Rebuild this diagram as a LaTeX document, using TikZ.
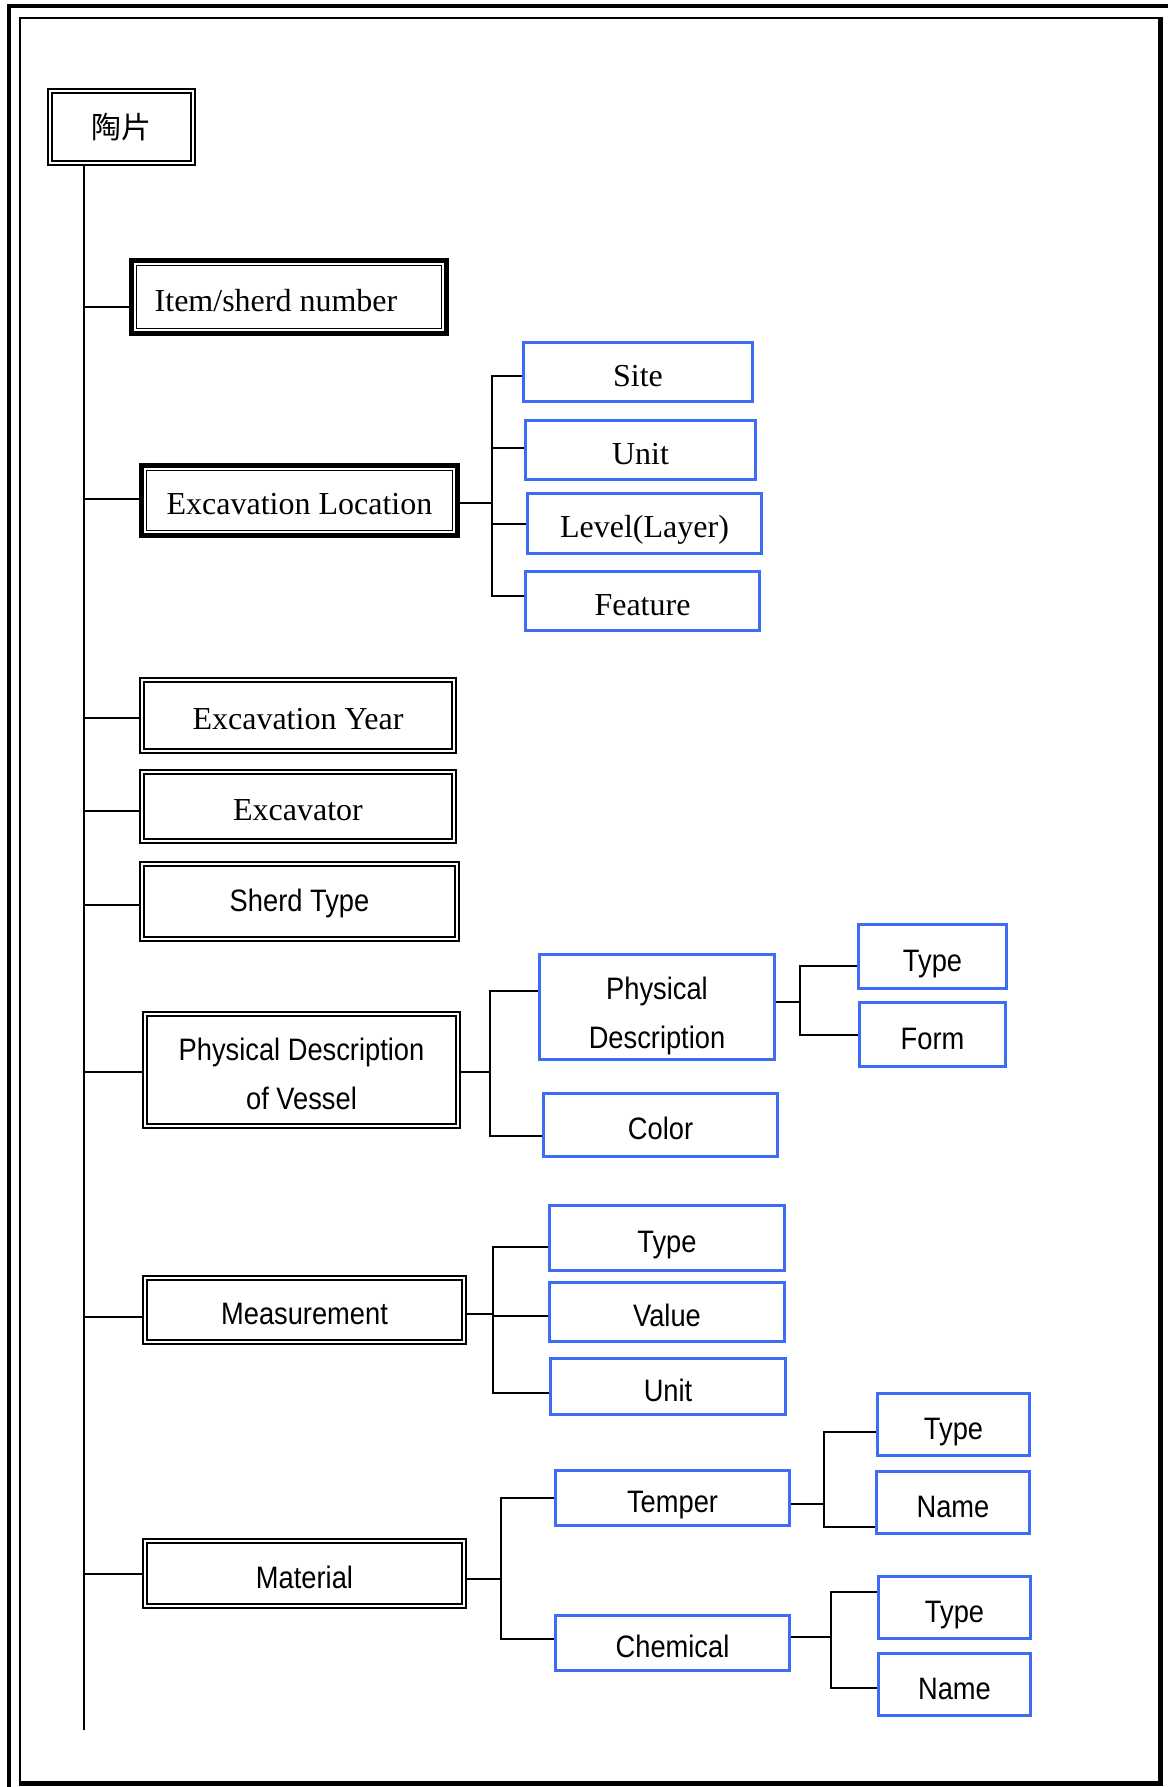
\documentclass[tikz,border=0pt]{standalone}
\usepackage{fontspec}
\setmainfont{Liberation Serif}
\newfontfamily\narrowsans[FakeStretch=0.88]{Liberation Sans}
\newfontfamily\cjkfont{Noto Sans CJK SC}
\definecolor{boxblue}{RGB}{62,108,245}

\begin{document}
\begin{tikzpicture}[
  x=1pt, y=-1pt,
  every node/.style={inner sep=0pt},
  dims/.style 2 args={minimum width=#1pt, minimum height=#2pt},
  rm/.style={font=\fontsize{32}{40}\selectfont, text height=35pt, text depth=6.5pt},
  sf/.style={font=\narrowsans\fontsize{31}{49}\selectfont, text height=36pt, text depth=6.3pt},
  twoline/.style={align=center, text height=, text depth=},
  field/.style={draw, double, double distance=2.4pt, line width=1.7pt, outer sep=2.9pt},
  keyfield/.style={draw, line width=5pt, outer sep=2.5pt},
  leaf/.style={draw=boxblue, line width=2.6pt, outer sep=1.3pt},
  link/.style={line width=2pt}
]
  \useasboundingbox (0,0) rectangle (1168,1787);

  % frame
  \draw[line width=4pt] (9,1787) -- (9,6.5) -- (1168,6.5);
  \draw[line width=2pt] (20,1783) -- (20,18) -- (1160,18);
  \draw[line width=5pt] (1160,17) -- (1160,1783.5) -- (19,1783.5);

  \node[field, dims={143}{72}, font=\cjkfont\fontsize{30}{36}\selectfont] (root) at (121.5,127) {陶片};

  \node[keyfield, rm, dims={315}{73}] (item) at (289,297) {Item/sherd number\hspace*{26pt}};
  \node[keyfield, rm, dims={316}{70}] (exloc) at (299.5,500.5) {Excavation Location};
  \node[field, rm, dims={312}{71}] (year) at (298,715.5) {Excavation Year};
  \node[field, rm, dims={312}{69}] (digger) at (298,806.5) {Excavator};
  \node[field, sf, text height=27pt, dims={315}{75}] (sherd) at (299.5,901.5) {Sherd Type};
  \node[field, sf, twoline, dims={313}{112}] (vessel) at (301.5,1070) {\rule{0pt}{31pt}Physical Description\\of Vessel};
  \node[field, sf, dims={319}{64}] (meas) at (304.5,1310) {Measurement};
  \node[field, sf, dims={319}{65}] (material) at (304.5,1573.5) {Material};

  \node[leaf, rm, dims={229.4}{59.4}] (site) at (638,372) {Site};
  \node[leaf, rm, dims={230.4}{59.4}] (unit) at (640.5,450) {Unit};
  \node[leaf, rm, dims={234.4}{60.4}] (level) at (644.5,523.5) {Level(Layer)};
  \node[leaf, rm, dims={234.4}{59.4}] (feature) at (642.5,601) {Feature};

  \node[leaf, sf, twoline, dims={235.4}{105.4}] (physdesc) at (657,1007) {\rule{0pt}{40pt}Physical\\Description};
  \node[leaf, sf, dims={234.4}{63.4}] (color) at (660.5,1125) {Color};
  \node[leaf, sf, dims={148.4}{64.4}] (ptype) at (932.5,956.5) {Type};
  \node[leaf, sf, dims={146.4}{64.4}] (pform) at (932.5,1034.5) {Form};

  \node[leaf, sf, dims={235.4}{65.4}] (mtype) at (667,1238) {Type};
  \node[leaf, sf, dims={235.4}{59.4}] (mvalue) at (667,1312) {Value};
  \node[leaf, sf, dims={235.4}{56.4}] (munit) at (668,1386.5) {Unit};

  \node[leaf, sf, dims={234.4}{55.4}] (temper) at (672.5,1498) {Temper};
  \node[leaf, sf, dims={234.4}{55.4}] (chem) at (672.5,1643) {Chemical};
  \node[leaf, sf, dims={152.4}{62.4}] (ttype) at (953.5,1424.5) {Type};
  \node[leaf, sf, dims={153.4}{62.4}] (tname) at (953,1502.5) {Name};
  \node[leaf, sf, dims={152.4}{62.4}] (ctype) at (954.5,1607.5) {Type};
  \node[leaf, sf, dims={152.4}{62.4}] (cname) at (954.5,1684.5) {Name};

  \foreach \n in {item,exloc}
    \draw[line width=1.3pt] ([shift={(7.3pt,-7.3pt)}]\n.north west) rectangle ([shift={(-7.3pt,7.3pt)}]\n.south east);

  \coordinate (trunkend) at (84,1730);
  \coordinate (locjoin) at (492,503);
  \coordinate (vesseljoin) at (490,1072);
  \coordinate (pdjoin) at (800,1002);
  \coordinate (measjoin) at (493,1314);
  \coordinate (matjoin) at (501,1579);
  \coordinate (temperjoin) at (824,1504);
  \coordinate (chemjoin) at (831,1637);

  \draw[link] (root.south -| trunkend) -- (trunkend);
  \foreach \n/\dy in {item/-10,exloc/1.5,year/-2.5,digger/-4.5,sherd/-3.5,vessel/-2,meas/-7,material/0}
    \draw[link] ([yshift=\dy pt]\n.west) -| (trunkend);

  \draw[link] (exloc.east |- locjoin) -- (locjoin);
  \foreach \n/\dy in {site/-4,unit/2,level/0,feature/5}
    \draw[link] ([yshift=\dy pt]\n.west) -| (locjoin);

  \draw[link] (vessel.east |- vesseljoin) -- (vesseljoin);
  \foreach \n/\dy in {physdesc/16,color/-11}
    \draw[link] ([yshift=\dy pt]\n.west) -| (vesseljoin);

  \draw[link] (physdesc.east |- pdjoin) -- (pdjoin);
  \foreach \n/\dy in {ptype/-9.5,pform/0}
    \draw[link] ([yshift=\dy pt]\n.west) -| (pdjoin);

  \draw[link] (meas.east |- measjoin) -- (measjoin);
  \foreach \n/\dy in {mtype/-9,mvalue/-4,munit/-6.5}
    \draw[link] ([yshift=\dy pt]\n.west) -| (measjoin);

  \draw[link] (material.east |- matjoin) -- (matjoin);
  \foreach \n/\dy in {temper/0,chem/4}
    \draw[link] ([yshift=\dy pt]\n.west) -| (matjoin);

  \draw[link] (temper.east |- temperjoin) -- (temperjoin);
  \foreach \n/\dy in {ttype/-7.5,tname/-24.5}
    \draw[link] ([yshift=\dy pt]\n.west) -| (temperjoin);

  \draw[link] (chem.east |- chemjoin) -- (chemjoin);
  \foreach \n/\dy in {ctype/15.5,cname/-3.5}
    \draw[link] ([yshift=\dy pt]\n.west) -| (chemjoin);
\end{tikzpicture}
\end{document}
